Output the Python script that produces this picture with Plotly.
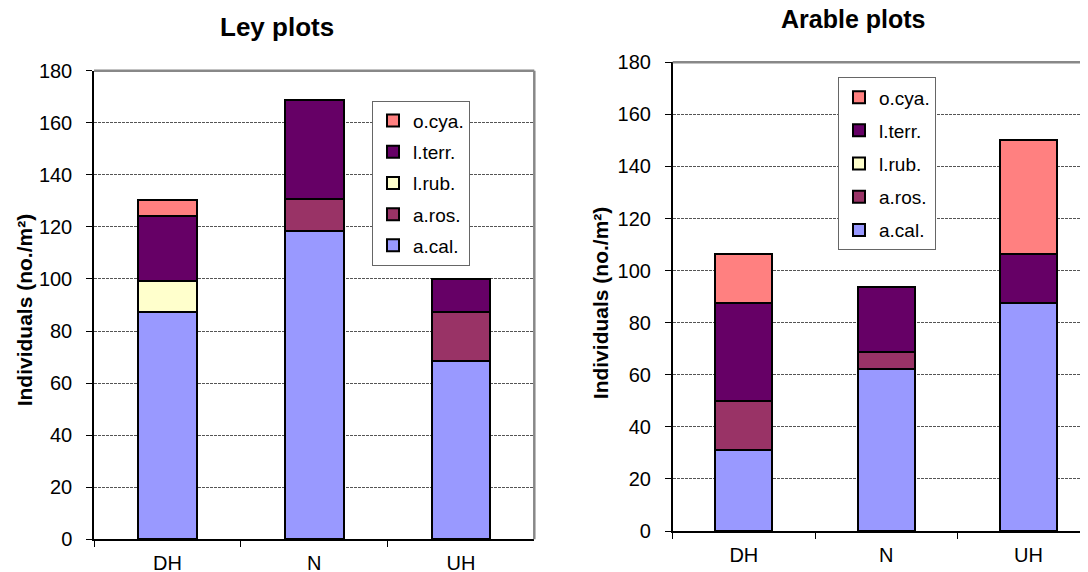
import plotly.graph_objects as go

# ---------------- data ----------------
categories = ["DH", "N", "UH"]
series_names = ["a.cal.", "a.ros.", "l.rub.", "l.terr.", "o.cya."]
series_colors = ["#9999FF", "#993366", "#FFFFCC", "#660066", "#FF8080"]

ley_a_cal = [87.3, 118.6, 68.4]
ley_a_ros = [0.0, 12.3, 18.9]
ley_l_rub = [12.0, 0.0, 0.0]
ley_l_terr = [25.0, 37.8, 12.6]
ley_o_cya = [6.2, 0.0, 0.0]

arable_a_cal = [31.2, 62.4, 87.5]
arable_a_ros = [18.6, 6.2, 0.0]
arable_l_rub = [0.0, 0.0, 0.0]
arable_l_terr = [37.7, 25.2, 18.7]
arable_o_cya = [18.7, 0.0, 43.9]

y_tick_values = [0, 20, 40, 60, 80, 100, 120, 140, 160, 180]

ley_series = [ley_a_cal, ley_a_ros, ley_l_rub, ley_l_terr, ley_o_cya]
arable_series = [arable_a_cal, arable_a_ros, arable_l_rub, arable_l_terr, arable_o_cya]

# ---------------- figure ----------------
# the page places the figure 8px from the top-left corner of the window
OFF = 8
W, H = 1088 - OFF, 572 - OFF
FONT = "Liberation Sans, Arial, sans-serif"

fig = go.Figure()

n = len(series_names)
for i, (name, color, vals) in enumerate(zip(series_names, series_colors, ley_series)):
    fig.add_trace(go.Bar(
        x=categories, y=vals, name=name, xaxis="x", yaxis="y",
        marker=dict(color=color, line=dict(color="black", width=2)),
        legend="legend", legendgroup="ley" + name, legendrank=n - i,
    ))

for i, (name, color, vals) in enumerate(zip(series_names, series_colors, arable_series)):
    fig.add_trace(go.Bar(
        x=categories, y=vals, name=name, xaxis="x2", yaxis="y2",
        marker=dict(color=color, line=dict(color="black", width=2)),
        legend="legend2", legendgroup="arable" + name, legendrank=n - i,
    ))


def px_x(p):
    return (p - OFF) / W


def px_y(p):
    return 1 - (p - OFF) / H


common_x = dict(
    type="category", showline=True, linecolor="black", linewidth=1.5,
    ticks="outside", ticklen=6, tickwidth=1.2, tickcolor="black",
    tickson="boundaries", showgrid=False, zeroline=False,
    tickfont=dict(family=FONT, size=20, color="black"),
    ticklabelstandoff=5, fixedrange=True, automargin=False,
)
common_y = dict(
    range=[0, 180], tickvals=y_tick_values, showline=True, linecolor="black",
    linewidth=1.5, ticks="outside", ticklen=6, tickwidth=1.2, tickcolor="black",
    showgrid=True, gridcolor="#555555", gridwidth=1, griddash="3px,1px",
    zeroline=False, tickfont=dict(family=FONT, size=20, color="black"),
    ticklabelstandoff=10, fixedrange=True, automargin=False,
)

# window pixels -- left plot area: x 94..534.3, y 70.7..539.3 ; right: x 672.7..(1099.7), y 62.3..531
right_axis_x = 672.7
right_cat_w = 142.3
right_range_end = -0.5 + (1088 - right_axis_x) / right_cat_w

fig.update_layout(
    width=W, height=H,
    margin=dict(l=0, r=0, t=0, b=0),
    paper_bgcolor="white", plot_bgcolor="white",
    barmode="stack", bargap=0.6,
    showlegend=True,
    font=dict(family=FONT, color="black"),
    xaxis=dict(common_x, domain=[px_x(94), px_x(534.3)], range=[-0.5, 2.5], anchor="y"),
    yaxis=dict(common_y, domain=[px_y(539.3), px_y(70.7)], anchor="x"),
    xaxis2=dict(common_x, domain=[px_x(right_axis_x), 1.0], range=[-0.5, right_range_end], anchor="y2"),
    yaxis2=dict(common_y, domain=[px_y(531), px_y(62.3)], anchor="x2"),
    legend=dict(
        x=px_x(372), y=px_y(100.7), xanchor="left", yanchor="top",
        bgcolor="white", bordercolor="#666666", borderwidth=1,
        font=dict(family=FONT, size=19, color="black"),
        traceorder="grouped", tracegroupgap=3.5, itemwidth=30,
    ),
    legend2=dict(
        x=px_x(838), y=px_y(77.3), xanchor="left", yanchor="top",
        bgcolor="white", bordercolor="#666666", borderwidth=1,
        font=dict(family=FONT, size=19, color="black"),
        traceorder="grouped", tracegroupgap=5.5, itemwidth=30,
    ),
    annotations=[
        dict(text="<b>Ley plots</b>", x=px_x(276.7), y=px_y(27), xref="paper", yref="paper",
             xanchor="center", yanchor="middle", showarrow=False,
             font=dict(family=FONT, size=26, color="black")),
        dict(text="<b>Arable plots</b>", x=px_x(853), y=px_y(19), xref="paper", yref="paper",
             xanchor="center", yanchor="middle", showarrow=False,
             font=dict(family=FONT, size=25, color="black")),
        dict(text="<b>Individuals (no./m²)</b>", x=px_x(24.3), y=px_y(310), xref="paper", yref="paper",
             xanchor="center", yanchor="middle", showarrow=False, textangle=-90,
             font=dict(family=FONT, size=21, color="black")),
        dict(text="<b>Individuals (no./m²)</b>", x=px_x(600.5), y=px_y(302.7), xref="paper", yref="paper",
             xanchor="center", yanchor="middle", showarrow=False, textangle=-90,
             font=dict(family=FONT, size=21, color="black")),
    ],
    shapes=[
        dict(type="line", xref="x domain", yref="y domain", x0=0, x1=1, y0=1, y1=1,
             line=dict(color="#888888", width=2.5)),
        dict(type="line", xref="x domain", yref="y domain", x0=1, x1=1, y0=0, y1=1,
             line=dict(color="#888888", width=2.5)),
        dict(type="line", xref="x2 domain", yref="y2 domain", x0=0, x1=1, y0=1, y1=1,
             line=dict(color="#888888", width=2.5)),
    ],
)

fig.write_html("out.html")
